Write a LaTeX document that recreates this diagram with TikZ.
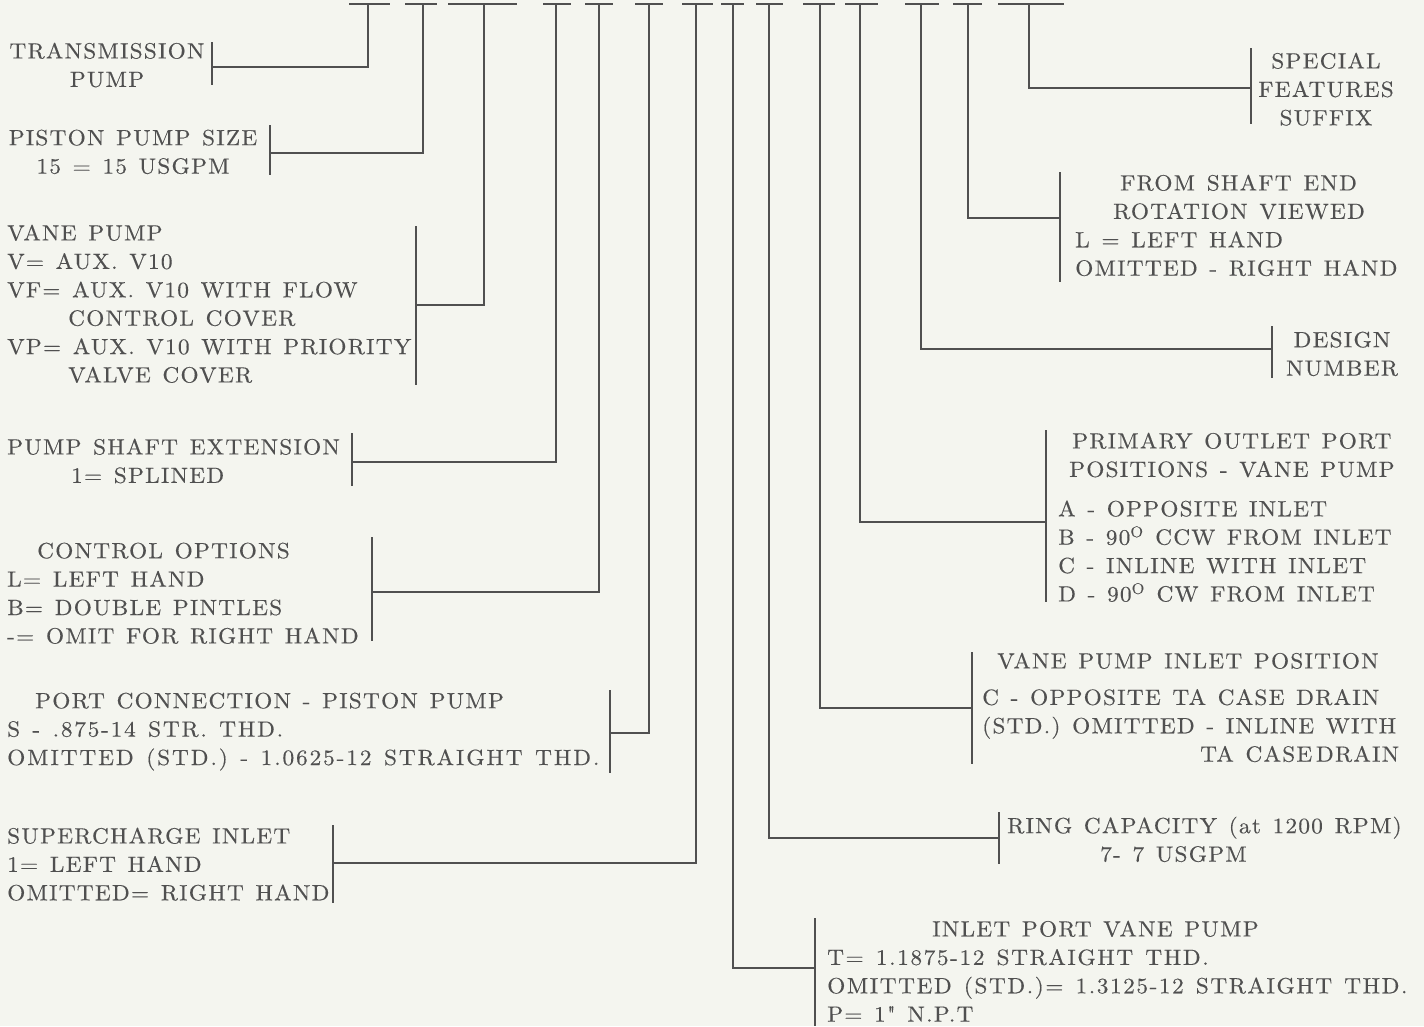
\documentclass[tikz,border=0pt]{standalone}
\usepackage{fontspec}
\newfontfamily\platefont{lmroman10-regular.otf}[FakeStretch=1.06,LetterSpace=5.5,WordSpace=1.3,FakeBold=0.3]
\newcommand\spread[2]{{\addfontfeature{LetterSpace=#1}#2}}
\definecolor{paper}{RGB}{244,245,239}
\definecolor{ink}{RGB}{80,80,80}

\begin{document}
\begin{tikzpicture}[
  x=1pt, y=1pt,
  txt/.style={inner sep=0pt, text=ink, font=\platefont\fontsize{22}{28.4}\selectfont},
  ltxt/.style={txt, align=left, anchor=north west},
  ctxt/.style={txt, align=center, anchor=north},
  rule/.style={draw=ink, line width=1.5pt}
]
\fill[paper] (0,0) rectangle (1424,-1026);
\useasboundingbox (0,0) rectangle (1424,-1026);

% code positions along the top
\foreach \l/\r/\v [count=\i] in {349/390/368, 405/437/423, 448/517/484,
    543/571/556, 585/613/599, 635/663/649, 682/713/696, 721/744/733,
    756/783/769, 803/835/820, 845/878/860, 905/939/921, 953/982/968,
    998/1064/1029}{
  \draw[rule] (\l,-4) -- (\r,-4);
  \coordinate (k\i) at (\v,-4);
}

% left column
\node[ctxt] (trans) at (107,-42.5) {TRANSMISSION\\PUMP};
\coordinate (trans-j) at (212,-67);
\draw[rule] (212,-42) -- (212,-85);
\draw[rule] (k1) |- (trans-j);

\node[ctxt] (psize) at (133,-129.5) {PISTON PUMP SIZE\\15 = 15 USGPM};
\coordinate (psize-j) at (270,-153);
\draw[rule] (270,-125) -- (270,-175);
\draw[rule] (k2) |- (psize-j);

\node[ltxt] (vane) at (7,-224.5) {VANE PUMP\\V= AUX. V10\\VF= AUX. V10 WITH FLOW\\
  \hspace*{61pt}CONTROL COVER\\VP= AUX. V10 WITH PRIORITY\\\hspace*{61pt}VALVE COVER};
\coordinate (vane-j) at (416,-305);
\draw[rule] (416,-226) -- (416,-385);
\draw[rule] (k3) |- (vane-j);

\node[ltxt] (shaft) at (7,-438.5) {PUMP SHAFT EXTENSION\\\hspace*{64pt}1= SPLINED};
\coordinate (shaft-j) at (352,-462);
\draw[rule] (352,-433) -- (352,-486);
\draw[rule] (k4) |- (shaft-j);

\node[ltxt] (ctrl) at (7,-542.5) {\hspace*{30pt}CONTROL OPTIONS\\L= LEFT HAND\\
  B= DOUBLE PINTLES\\-= OMIT FOR RIGHT HAND};
\coordinate (ctrl-j) at (372,-592);
\draw[rule] (372,-537) -- (372,-641);
\draw[rule] (k5) |- (ctrl-j);

\node[ltxt] (port) at (7,-692.5) {\hspace*{28pt}PORT CONNECTION - PISTON PUMP\\
  \spread{8}{S - .875-14 STR. THD.}\\\spread{8.5}{OMITTED (STD.) - 1.0625-12 STRAIGHT THD.}};
\coordinate (port-j) at (610,-733);
\draw[rule] (610,-690) -- (610,-773);
\draw[rule] (k6) |- (port-j);

\node[ltxt] (super) at (7,-827.5) {SUPERCHARGE INLET\\1= LEFT HAND\\OMITTED= RIGHT HAND};
\coordinate (super-j) at (333,-863);
\draw[rule] (333,-825) -- (333,-903);
\draw[rule] (k7) |- (super-j);

% right column
\node[ltxt] (inlet) at (827,-920.5) {\hspace*{105pt}INLET PORT VANE PUMP\\
  \spread{7.2}{T= 1.1875-12 STRAIGHT THD.}\\
  \spread{7}{OMITTED (STD.)= 1.3125-12 STRAIGHT THD.}\\P= 1" N.P.T};
\coordinate (inlet-j) at (815,-968);
\draw[rule] (815,-918) -- (815,-1026);
\draw[rule] (k8) |- (inlet-j);

\node[ltxt] (ring) at (1007,-816.5) {RING CAPACITY (at 1200 RPM)\\\hspace*{93pt}7- 7 USGPM};
\coordinate (ring-j) at (999,-838);
\draw[rule] (999,-812) -- (999,-864);
\draw[rule] (k9) |- (ring-j);

\node[ltxt] (vpin) at (982,-652.5) {\hspace*{15pt}VANE PUMP INLET POSITION\\[8pt]
  C - OPPOSITE TA CASE DRAIN\\(STD.) OMITTED - INLINE WITH\\\hspace*{218pt}TA CASE\,DRAIN};
\coordinate (vpin-j) at (972,-708);
\draw[rule] (972,-652) -- (972,-764);
\draw[rule] (k10) |- (vpin-j);

\node[ltxt] (prim) at (1058,-432.5) {\hspace*{14pt}PRIMARY OUTLET PORT\\
  \hspace*{11pt}POSITIONS - VANE PUMP\\[11pt]A - OPPOSITE INLET\\
  B - 90\textsuperscript{O} CCW FROM INLET\\C - INLINE WITH INLET\\
  D - 90\textsuperscript{O} CW FROM INLET};
\coordinate (prim-j) at (1046,-522);
\draw[rule] (1046,-430) -- (1046,-602);
\draw[rule] (k11) |- (prim-j);

\node[ctxt] (design) at (1342,-331.5) {DESIGN\\NUMBER};
\coordinate (design-j) at (1272,-349);
\draw[rule] (1272,-326) -- (1272,-378);
\draw[rule] (k12) |- (design-j);

\node[ltxt] (rot) at (1075,-174.5) {\hspace*{45pt}FROM SHAFT END\\\hspace*{38pt}ROTATION VIEWED\\
  L = LEFT HAND\\OMITTED - RIGHT HAND};
\coordinate (rot-j) at (1060,-218);
\draw[rule] (1060,-172) -- (1060,-282);
\draw[rule] (k13) |- (rot-j);

\node[ctxt] (special) at (1326,-52.5) {SPECIAL\\FEATURES\\SUFFIX};
\coordinate (special-j) at (1251,-88);
\draw[rule] (1251,-48) -- (1251,-124);
\draw[rule] (k14) |- (special-j);
\end{tikzpicture}
\end{document}
